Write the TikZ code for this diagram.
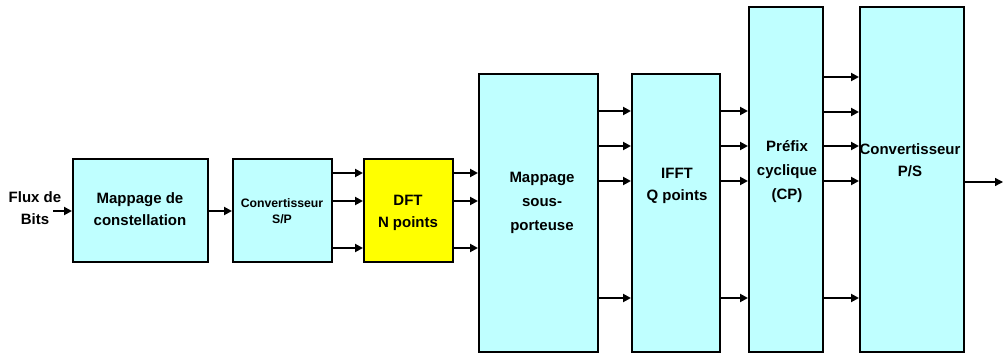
\documentclass[tikz,border=0pt]{standalone}
\usepackage{fontspec}
\setmainfont{Liberation Sans}
\definecolor{boxcyan}{RGB}{191,255,255}
\definecolor{boxyellow}{RGB}{255,255,0}
\usetikzlibrary{arrows.meta}

\begin{document}
\begin{tikzpicture}[x=0.75pt,y=0.75pt,yscale=-1,xscale=1,
	blk/.style 2 args={draw, line width=1.5pt, fill=boxcyan, inner sep=0pt, minimum width=#1*0.75pt, minimum height=#2*0.75pt},
	lbl/.style={align=center, inner sep=0pt, font=\bfseries\fontsize{11.25}{16.5}\selectfont},
	lbltall/.style={lbl, font=\bfseries\fontsize{11.25}{18}\selectfont},
	lblsmall/.style={lbl, font=\bfseries\fontsize{9.2}{12}\selectfont},
	flow/.style={line width=1.5pt, -{Triangle[length=6pt,width=6pt]}}]
	\useasboundingbox (0,0) rectangle (1003,353);
	
	%Shape: Blocks
	\node [blk={135}{103}] (map) at (140.5,210.5) {};
	\node [blk={99}{103}] (sp) at (282.5,210.5) {};
	\node [blk={89}{103}, fill=boxyellow] (dft) at (408.5,210.5) {};
	\node [blk={119}{278}] (sub) at (538.5,213) {};
	\node [blk={88}{278}] (ifft) at (676,213) {};
	\node [blk={74}{345}] (cp) at (786,179.5) {};
	\node [blk={104}{345}] (ps) at (912,179.5) {};
	
	% Text Node
	\node [lbl] (flux) at (35,208) {Flux de\\Bits};
	\node [lbl] (map-t) at (140,209) {Mappage de\\constellation};
	\node [lblsmall] (sp-t) at (282,211) {Convertisseur\\S/P};
	\node [lbl] (dft-t) at (408,213) {DFT\\N points};
	\node [lbltall] (sub-t) at (542,203) {Mappage\\sous-\\porteuse};
	\node [lbl] (ifft-t) at (677,186) {IFFT\\Q points};
	\node [lbltall] (cp-t) at (787,172) {Préfix\\cyclique\\(CP)};
	\node [lbl] (ps-t) at (910,160) {Convertisseur\\P/S};
	
	%Straight Lines: input and output
	\coordinate (in) at (53,211);
	\coordinate (out) at (1003,182);
	\draw [flow] (in) -- (map.west |- in);
	\draw [flow] (map.east |- 0,211) -- (sp.west |- 0,211);
	\draw [flow, line width=1pt] (ps.east |- out) -- (out);
	
	%Straight Lines: parallel branches
	\foreach \y in {173,201,248} {
		\draw [flow] (sp.east |- 0,\y) -- (dft.west |- 0,\y);
		\draw [flow] (dft.east |- 0,\y) -- (sub.west |- 0,\y);
	}
	\foreach \y in {111,146,181,298} {
		\draw [flow] (sub.east |- 0,\y) -- (ifft.west |- 0,\y);
		\draw [flow] (ifft.east |- 0,\y) -- (cp.west |- 0,\y);
	}
	\foreach \y in {77,112,146,181,298} {
		\draw [flow] (cp.east |- 0,\y) -- (ps.west |- 0,\y);
	}
	
\end{tikzpicture}
\end{document}
